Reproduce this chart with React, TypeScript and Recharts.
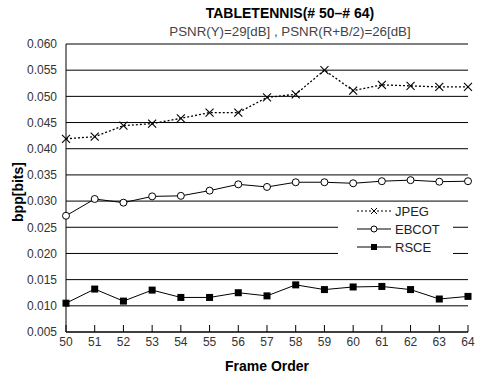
import React from 'react';
import { LineChart, Line, XAxis, YAxis, CartesianGrid } from 'recharts';

const frames = [50, 51, 52, 53, 54, 55, 56, 57, 58, 59, 60, 61, 62, 63, 64];
const jpeg = [0.0419, 0.0423, 0.0444, 0.0448, 0.0458, 0.0469, 0.0469, 0.0498, 0.0504, 0.055, 0.0511, 0.0522, 0.052, 0.0518, 0.0518];
const ebcot = [0.0272, 0.0304, 0.0297, 0.0309, 0.031, 0.032, 0.0332, 0.0327, 0.0336, 0.0336, 0.0334, 0.0338, 0.034, 0.0337, 0.0338];
const rsce = [0.0105, 0.0132, 0.0109, 0.013, 0.0116, 0.0116, 0.0125, 0.0119, 0.014, 0.0131, 0.0136, 0.0137, 0.0131, 0.0113, 0.0118];
const yTicks = [0.005, 0.01, 0.015, 0.02, 0.025, 0.03, 0.035, 0.04, 0.045, 0.05, 0.055, 0.06];

const chartData = frames.map((f, i) => ({ frame: f, jpeg: jpeg[i], ebcot: ebcot[i], rsce: rsce[i] }));

const FONT = '"Liberation Sans", Arial, sans-serif';

const CrossDot = (props: any) => {
  const { cx, cy } = props;
  if (cx == null || cy == null) return null;
  const s = 4;
  return (
    <g stroke="#000" strokeWidth={1.1}>
      <line x1={cx - s} y1={cy - s} x2={cx + s} y2={cy + s} />
      <line x1={cx - s} y1={cy + s} x2={cx + s} y2={cy - s} />
    </g>
  );
};

const SquareDot = (props: any) => {
  const { cx, cy } = props;
  if (cx == null || cy == null) return null;
  return <rect x={cx - 3.5} y={cy - 3.5} width={7} height={7} fill="#000" />;
};

const legendItems = [
  { name: 'JPEG', kind: 'cross' },
  { name: 'EBCOT', kind: 'circle' },
  { name: 'RSCE', kind: 'square' },
];

const LegendBox = () => (
  <div style={{ position: 'absolute', left: 338, top: 202, width: 115, height: 54, background: '#fff', padding: '0 0 0 18px', boxSizing: 'border-box', fontFamily: FONT, fontSize: 13, color: '#222' }}>
    {legendItems.map((it) => (
      <div key={it.name} style={{ display: 'flex', alignItems: 'center', height: 18 }}>
        <svg width={36} height={12} style={{ marginRight: 3 }}>
          <line x1={1} y1={6} x2={35} y2={6} stroke="#000" strokeWidth={1} strokeDasharray={it.kind === 'cross' ? '2 2' : undefined} />
          {it.kind === 'cross' && (
            <g stroke="#000" strokeWidth={1}>
              <line x1={15} y1={3} x2={21} y2={9} />
              <line x1={15} y1={9} x2={21} y2={3} />
            </g>
          )}
          {it.kind === 'circle' && <circle cx={18} cy={6} r={3} fill="#fff" stroke="#000" />}
          {it.kind === 'square' && <rect x={15} y={3} width={6} height={6} fill="#000" />}
        </svg>
        <span>{it.name}</span>
      </div>
    ))}
  </div>
);

export default function App() {
  return (
    <div style={{ position: 'absolute', left: 0, top: 0, width: 478, height: 374, background: '#fff', fontFamily: FONT }}>
      <div style={{ position: 'absolute', top: 5, left: 60, width: 460, textAlign: 'center', fontWeight: 'bold', fontSize: 14, color: '#000' }}>
        TABLETENNIS(# 50–# 64)
      </div>
      <div style={{ position: 'absolute', top: 24, left: 60, width: 460, textAlign: 'center', fontSize: 13.3, color: '#444' }}>
        PSNR(Y)=29[dB] , PSNR(R+B/2)=26[dB]
      </div>
      <div style={{ position: 'absolute', left: 17.5, top: 192, width: 100, marginLeft: -50, marginTop: -9, height: 18, lineHeight: '18px', textAlign: 'center', transform: 'rotate(-90deg)', fontWeight: 'bold', fontSize: 14, color: '#000' }}>
        bpp[bits]
      </div>
      <LineChart width={478} height={374} data={chartData} margin={{ top: 44, right: 10, bottom: 0, left: 0 }}>
        <CartesianGrid horizontal vertical={false} stroke="#000" strokeDasharray="" />
        <XAxis
          dataKey="frame"
          type="number"
          domain={[50, 64]}
          ticks={frames}
          height={42}
          stroke="#000"
          tickSize={-7}
          tickMargin={12}
          tick={{ fill: '#333', fontSize: 12, fontFamily: FONT }}
          label={{ value: 'Frame Order', position: 'insideBottom', offset: 3, fill: '#000', fontSize: 14, fontWeight: 'bold', fontFamily: FONT }}
        />
        <XAxis xAxisId="top" orientation="top" dataKey="frame" type="number" domain={[50, 64]} tick={false} tickLine={false} height={0} stroke="#000" />
        <YAxis
          type="number"
          domain={[0.005, 0.06]}
          ticks={yTicks}
          width={66}
          stroke="#000"
          tickSize={0}
          tickMargin={9}
          tickFormatter={(v: number) => v.toFixed(3)}
          tick={{ fill: '#333', fontSize: 12, fontFamily: FONT }}
        />
        <YAxis yAxisId="right" orientation="right" domain={[0.005, 0.06]} tick={false} tickLine={false} width={0} stroke="#000" />
        <Line dataKey="jpeg" stroke="#000" strokeWidth={1.3} strokeDasharray="2 2" dot={<CrossDot />} isAnimationActive={false} />
        <Line dataKey="ebcot" stroke="#000" strokeWidth={1} dot={{ r: 3.5, fill: '#fff', stroke: '#000', strokeWidth: 1 }} isAnimationActive={false} />
        <Line dataKey="rsce" stroke="#000" strokeWidth={1} dot={<SquareDot />} isAnimationActive={false} />
      </LineChart>
      <LegendBox />
    </div>
  );
}
